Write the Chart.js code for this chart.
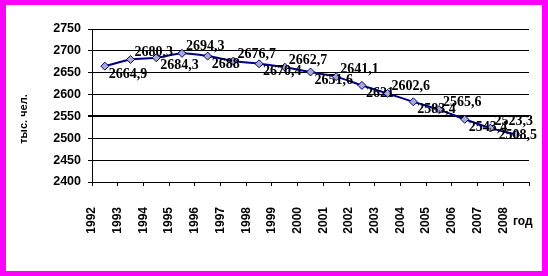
<!DOCTYPE html>
<html>
<head>
<meta charset="utf-8">
<script src="https://cdn.jsdelivr.net/npm/chart.js@4/dist/chart.umd.min.js"></script>
<style>
    html, body { margin: 0; padding: 0; }
    body { width: 548px; height: 276px; background: #ff00ff; position: relative; overflow: hidden; }
    #box { position: absolute; left: 6px; top: 5px; width: 536px; height: 266px; background: #fff; }
    canvas { display: block; }
</style>
</head>
<body>
<div id="box"><canvas id="popChart" width="536" height="266"></canvas></div>
<script>
const years = ["1992", "1993", "1994", "1995", "1996", "1997", "1998", "1999", "2000",
               "2001", "2002", "2003", "2004", "2005", "2006", "2007", "2008"];
const population = [2664.9, 2680.3, 2684.3, 2694.3, 2688, 2676.7, 2670.4, 2662.7, 2651.6,
                    2641.1, 2621, 2602.6, 2583.4, 2565.6, 2543.4, 2523.3, 2508.5];
const yMin = 2400;
const yMax = 2750;
const yStep = 50;
const boldLine = 2550;
const yTitle = "тыс. чел.";
const xTitle = "год";

function fmt(v) {
    return String(v).replace(".", ",");
}

const labelsPlugin = {
    id: "pointLabels",
    afterDatasetsDraw(chart) {
        const ctx = chart.ctx;
        const meta = chart.getDatasetMeta(0);
        ctx.save();
        ctx.fillStyle = "#000";
        ctx.font = 'bold 14px "Liberation Serif", "Times New Roman", serif';
        ctx.textAlign = "left";
        ctx.textBaseline = "middle";
        meta.data.forEach((pt, i) => {
            const text = fmt(population[i]);
            const w = ctx.measureText(text).width;
            const below = i % 2 === 0;
            const x = Math.min(pt.x + 4, chart.width - 5 - w);
            const dy = i === meta.data.length - 1 ? 1 : (below ? 8 : -7);
            ctx.fillText(text, x, pt.y + dy);
        });

        // axis captions
        ctx.font = "bold 12px Arial, 'Liberation Sans', sans-serif";
        ctx.fillText(xTitle, chart.chartArea.right - 16, 217);
        ctx.translate(18, 114);
        ctx.rotate(-Math.PI / 2);
        ctx.textAlign = "center";
        ctx.font = "bold 11px Arial, 'Liberation Sans', sans-serif";
        ctx.fillText(yTitle, 0, 0);
        ctx.restore();
    }
};

const ctx = document.getElementById("popChart").getContext("2d");

new Chart(ctx, {
    type: "line",
    data: {
        datasets: [{
            data: population.map((v, i) => ({ x: i + 0.5, y: v })),
            borderColor: "#000080",
            borderWidth: 2,
            tension: 0.2,
            pointStyle: "rectRot",
            pointRadius: 4,
            pointBackgroundColor: "#aaaacc",
            pointBorderColor: "#000080",
            pointBorderWidth: 1
        }]
    },
    options: {
        responsive: false,
        animation: false,
        events: [],
        layout: { padding: { left: 0, top: 24, right: 13, bottom: 0 } },
        plugins: {
            legend: { display: false },
            tooltip: { enabled: false }
        },
        scales: {
            x: {
                type: "linear",
                min: 0,
                max: years.length,
                afterFit: s => {
                    s.height = 89;
                    s.paddingLeft = 0;
                    s.paddingRight = 0;
                },
                afterBuildTicks: s => {
                    s.ticks = years.map((_, i) => ({ value: i })).concat([{ value: years.length }]);
                    s.min = 0;
                    s.max = years.length;
                },
                border: { display: true, color: "#000", width: 1 },
                grid: { drawOnChartArea: false, drawTicks: true, tickLength: 4, color: "#000" },
                ticks: {
                    stepSize: 1,
                    maxTicksLimit: 100,
                    autoSkip: false,
                    minRotation: 90,
                    maxRotation: 90,
                    padding: 21,
                    color: "#000",
                    font: { family: "Arial, 'Liberation Sans', sans-serif", size: 12, weight: "bold" },
                    callback: v => years[v] ?? ""
                }
            },
            y: {
                min: yMin,
                max: yMax,
                afterFit: s => { s.width = 86; },
                border: { display: true, color: "#000", width: 1 },
                grid: {
                    color: "#000",
                    tickLength: 4,
                    lineWidth: c => (c.tick && c.tick.value === boldLine ? 2 : 1)
                },
                ticks: {
                    stepSize: yStep,
                    padding: 7,
                    color: "#000",
                    font: { family: "Arial, 'Liberation Sans', sans-serif", size: 12.5, weight: "bold" },
                    callback: v => String(v)
                }
            }
        }
    },
    plugins: [labelsPlugin]
});
</script>
</body>
</html>
